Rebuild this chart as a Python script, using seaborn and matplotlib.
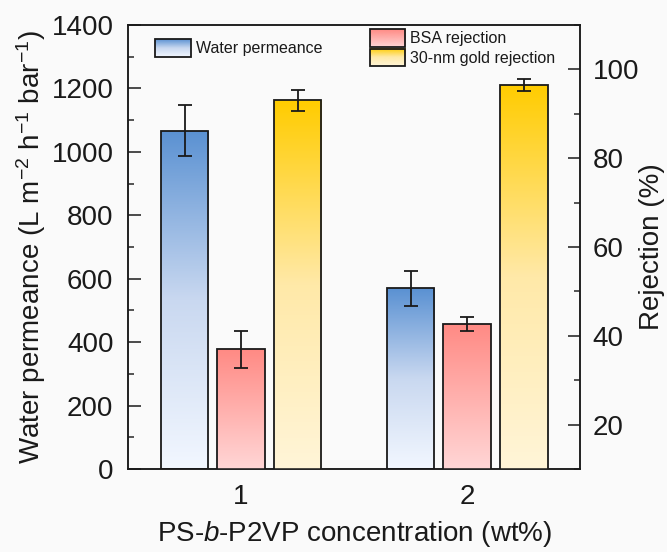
import numpy as np
import pandas as pd
import matplotlib
matplotlib.use("Agg")
import matplotlib.pyplot as plt
import seaborn as sns
from matplotlib.colors import LinearSegmentedColormap
from matplotlib.image import BboxImage
from matplotlib.legend_handler import HandlerBase
from matplotlib.patches import Rectangle
from matplotlib.ticker import MultipleLocator
from matplotlib.transforms import Bbox, TransformedBbox


# ==============================
# DATA
# ==============================

concentration = [1, 2]
tick_labels = ["1", "2"]

permeance = [1067, 570]
permeance_err = [80, 56]

bsa_rejection = [37.0, 42.7]
bsa_err = [4.2, 1.6]

gold_rejection = [93.0, 96.5]
gold_err = [2.3, 1.3]


# ==============================
# STYLE
# ==============================

sns.set_style("ticks")
plt.rcParams["font.family"] = ["Liberation Sans", "DejaVu Sans"]
plt.rcParams["mathtext.fontset"] = "custom"
plt.rcParams["mathtext.rm"] = "Liberation Sans"
plt.rcParams["mathtext.it"] = "Liberation Sans:italic"
plt.rcParams["mathtext.default"] = "regular"

BG = "#fafafa"
INK = "#1a1a1a"

cmap_blue = LinearSegmentedColormap.from_list("b", ["#f2f7ff", "#c9d8f0", "#5a91d2"])
cmap_red = LinearSegmentedColormap.from_list("r", ["#ffd6d6", "#ff8a84"])
cmap_gold = LinearSegmentedColormap.from_list("g", ["#fff5d8", "#ffe9a8", "#ffcc00"])

GRAD = np.linspace(0, 1, 256).reshape(-1, 1)


def fill_gradient(ax, patches, cmap, ybottom):
    for p in patches:
        x = p.get_x()
        w = p.get_width()
        top = p.get_y() + p.get_height()
        img = ax.imshow(
            GRAD, cmap=cmap, origin="lower", aspect="auto",
            extent=[x, x + w, ybottom, top], zorder=1,
            interpolation="bicubic"
        )
        img.set_clip_path(p)
        p.set_facecolor("none")
        p.set_edgecolor(INK)
        p.set_linewidth(1.3)
        p.set_zorder(2)


class GradientHandler(HandlerBase):

    def __init__(self, cmap):
        super().__init__()
        self.cmap = cmap

    def create_artists(self, legend, orig_handle, xdescent, ydescent,
                       width, height, fontsize, trans):
        bb = TransformedBbox(Bbox.from_bounds(-xdescent, -ydescent, width, height), trans)
        img = BboxImage(bb, cmap=self.cmap, origin="lower", interpolation="bicubic")
        img.set_data(GRAD)
        rect = Rectangle((-xdescent, -ydescent), width, height,
                         facecolor="none", edgecolor=INK, linewidth=1.3,
                         transform=trans)
        return [img, rect]


# ==============================
# FIGURE
# ==============================

fig = plt.figure(figsize=(6.67, 5.52), dpi=100, facecolor=BG)
ax = fig.add_axes([0.192, 0.150, 0.678, 0.805])
ax.set_facecolor(BG)
ax2 = ax.twinx()

df_perm = pd.DataFrame({"x": np.array(concentration) - 0.25, "y": permeance})
df_bsa = pd.DataFrame({"x": np.array(concentration) + 0.0, "y": bsa_rejection})
df_gold = pd.DataFrame({"x": np.array(concentration) + 0.25, "y": gold_rejection})

sns.barplot(data=df_perm, x="x", y="y", native_scale=True, orient="x",
            width=0.21, errorbar=None, ax=ax)
fill_gradient(ax, list(ax.patches), cmap_blue, 0)

sns.barplot(data=df_bsa, x="x", y="y", native_scale=True, orient="x",
            width=0.21, errorbar=None, ax=ax2)
bsa_patches = list(ax2.patches)
sns.barplot(data=df_gold, x="x", y="y", native_scale=True, orient="x",
            width=0.21, errorbar=None, ax=ax2)
gold_patches = [p for p in ax2.patches if p not in bsa_patches]
fill_gradient(ax2, bsa_patches, cmap_red, 10)
fill_gradient(ax2, gold_patches, cmap_gold, 10)

err_kw = dict(fmt="none", ecolor=INK, elinewidth=1.3, capsize=5, capthick=1.3, zorder=3)
ax.errorbar(df_perm["x"], permeance, yerr=permeance_err, **err_kw)
ax2.errorbar(df_bsa["x"], bsa_rejection, yerr=bsa_err, **err_kw)
ax2.errorbar(df_gold["x"], gold_rejection, yerr=gold_err, **err_kw)

# axes limits / ticks
ax.set_xlim(0.5, 2.5)
ax.set_ylim(0, 1400)
ax2.set_ylim(10, 110)

ax.set_xticks(concentration)
ax.set_xticklabels(tick_labels)
ax.yaxis.set_major_locator(MultipleLocator(200))
ax.yaxis.set_minor_locator(MultipleLocator(100))
ax2.yaxis.set_major_locator(MultipleLocator(20))
ax2.yaxis.set_minor_locator(MultipleLocator(10))
ax2.set_yticks([20, 40, 60, 80, 100])

ax.tick_params(axis="x", length=0, pad=11, labelsize=20, colors=INK)
ax.tick_params(axis="y", which="major", direction="in", length=9, width=1.1,
               pad=10.5, labelsize=20, colors=INK, right=False)
ax.tick_params(axis="y", which="minor", direction="in", length=4, width=1.1, right=False)
ax2.tick_params(axis="y", which="major", direction="in", length=9, width=1.1,
                pad=9, labelsize=20, colors=INK)
ax2.tick_params(axis="y", which="minor", direction="in", length=4, width=1.1)
ax2.tick_params(axis="x", length=0)

for a in (ax, ax2):
    for s in a.spines.values():
        s.set_visible(True)
        s.set_linewidth(1.1)
        s.set_color(INK)

ax.set_xlabel("PS-$\\mathit{b}$-P2VP concentration (wt%)", fontsize=20, color=INK, labelpad=6)
ax.set_ylabel("Water permeance (L m$^{-2}$ h$^{-1}$ bar$^{-1}$)", fontsize=20, color=INK)
ax.yaxis.set_label_coords(-0.178, 0.5)
ax2.set_ylabel("Rejection (%)", fontsize=20, color=INK)
ax2.yaxis.set_label_coords(1.13, 0.5)
ax2.set_xlabel("")

# ==============================
# LEGENDS
# ==============================

leg_kw = dict(frameon=False, fontsize=11.5, handlelength=2.25, handleheight=1.3,
              handletextpad=0.3, borderpad=0, borderaxespad=0, labelspacing=0.15,
              loc="upper left", bbox_transform=fig.transFigure)

h_water = Rectangle((0, 0), 1, 1)
h_bsa = Rectangle((0, 0), 1, 1)
h_gold = Rectangle((0, 0), 1, 1)

leg1 = ax2.legend([h_water], ["Water permeance"],
                  handler_map={h_water: GradientHandler(cmap_blue)},
                  bbox_to_anchor=(0.233, 0.929), **leg_kw)
for t in leg1.get_texts():
    t.set_color(INK)
ax2.add_artist(leg1)

leg2 = ax2.legend([h_bsa, h_gold], ["BSA rejection", "30-nm gold rejection"],
                  handler_map={h_bsa: GradientHandler(cmap_red),
                               h_gold: GradientHandler(cmap_gold)},
                  bbox_to_anchor=(0.554, 0.947), **leg_kw)
for t in leg2.get_texts():
    t.set_color(INK)

fig.savefig("out.png", dpi=100, facecolor=BG)
